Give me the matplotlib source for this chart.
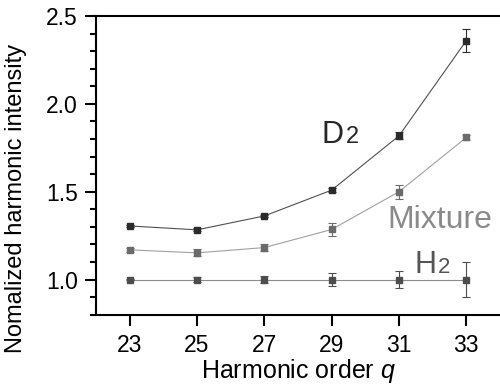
import numpy as np
import matplotlib
matplotlib.use("Agg")
import matplotlib.pyplot as plt
from matplotlib.ticker import MultipleLocator

plt.rcParams['font.family'] = ['Liberation Sans', 'DejaVu Sans']
plt.rcParams['mathtext.fontset'] = 'custom'
plt.rcParams['mathtext.it'] = 'Liberation Sans:italic'
plt.rcParams['mathtext.rm'] = 'Liberation Sans'

# --- data ---
orders = [23, 25, 27, 29, 31, 33]
d2_vals = [1.305, 1.283, 1.362, 1.509, 1.818, 2.36]
d2_err = [0.008, 0.008, 0.008, 0.01, 0.02, 0.067]
mix_vals = [1.169, 1.152, 1.182, 1.285, 1.50, 1.809]
mix_err = [0.01, 0.02, 0.02, 0.036, 0.04, 0.012]
h2_vals = [1.0, 1.0, 1.0, 1.0, 1.0, 1.0]
h2_err = [0.005, 0.012, 0.02, 0.035, 0.046, 0.1]

fig = plt.figure(figsize=(5.0, 3.84), dpi=100)
ax = fig.add_axes([96/500, 69.3/384, 404/500, 298.7/384])

series = [
    (h2_vals, h2_err, '#4d4d4d', '#8c8c8c'),
    (mix_vals, mix_err, '#6b6b6b', '#a0a0a0'),
    (d2_vals, d2_err, '#2b2b2b', '#505050'),
]
for vals, err, mcol, lcol in series:
    ax.plot(orders, vals, color=lcol, lw=0.8, zorder=2)
    ax.errorbar(orders, vals, yerr=err, fmt='s', ms=5, mfc=mcol, mec=mcol,
                ecolor=mcol, elinewidth=0.8, capsize=3, capthick=0.8, zorder=3)

ax.set_xlim(22, 34)
ax.set_ylim(0.8, 2.5)
ax.set_xticks(orders)
ax.yaxis.set_minor_locator(MultipleLocator(0.1))
ax.set_yticks([1.0, 1.5, 2.0, 2.5])
ax.set_yticklabels(['1.0', '1.5', '2.0', '2.5'])

for side in ['left', 'bottom', 'top']:
    ax.spines[side].set_linewidth(1.5)
ax.spines['right'].set_visible(False)

ax.tick_params(axis='both', which='major', direction='out', length=8, width=1.5,
               labelsize=16.5)
ax.tick_params(axis='y', which='major', pad=5)
ax.tick_params(axis='x', which='major', pad=6)
ax.tick_params(axis='y', which='minor', direction='out', length=4.5, width=1.5)
ax.tick_params(axis='x', which='minor', bottom=False)

ax.set_xlabel('Harmonic order $q$', fontsize=18, labelpad=0)
ax.set_ylabel('Nomalized harmonic intensity', fontsize=17)
ax.yaxis.set_label_coords(-0.171, 0.39)

# curve labels
ax.text(28.7, 1.777, 'D', fontsize=22, color='#262626')
ax.text(29.42, 1.777, '2', fontsize=17, color='#262626')
ax.text(30.64, 1.292, 'Mixture', fontsize=23, color='#8a8a8a')
ax.text(31.47, 1.04, 'H', fontsize=22, color='#555555')
ax.text(32.15, 1.04, '2', fontsize=16, color='#555555')

fig.savefig('out.png', dpi=100)
